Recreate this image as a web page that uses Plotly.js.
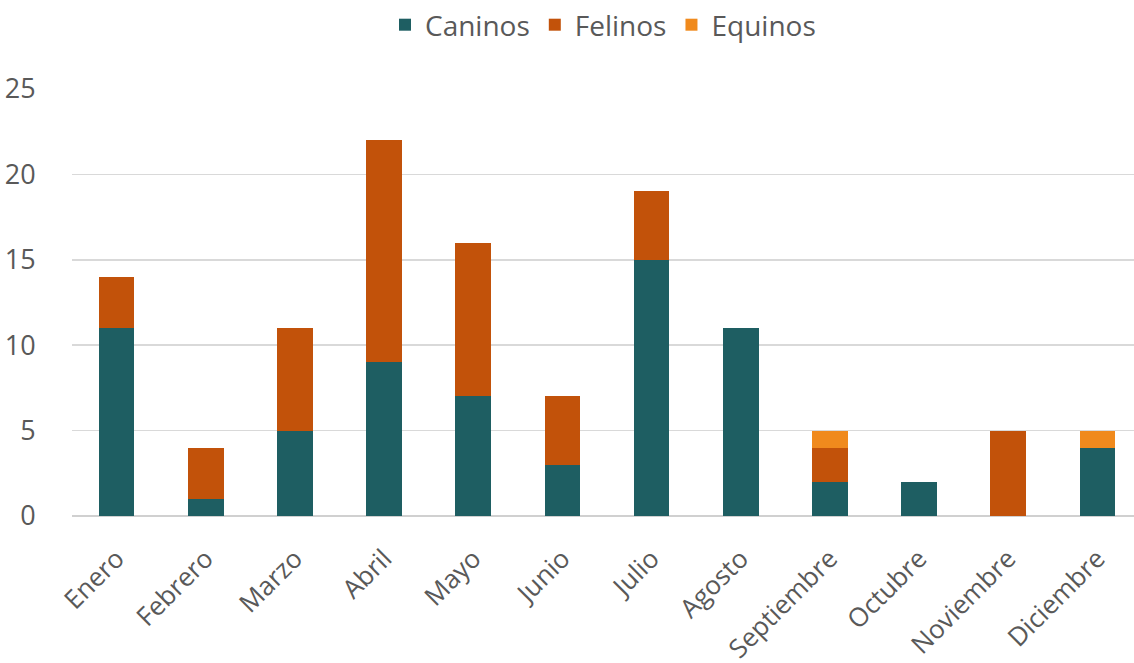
<!DOCTYPE html>
<html><head><meta charset="utf-8">
<script src="https://cdn.plot.ly/plotly-3.0.1.min.js"></script>
<style>html,body{margin:0;padding:0;background:#fff}#c{width:1134px;height:663px}</style>
</head><body><div id="c"></div>
<script>
var months = ["Enero","Febrero","Marzo","Abril","Mayo","Junio","Julio","Agosto","Septiembre","Octubre","Noviembre","Diciembre"];
var caninos = [11,1,5,9,7,3,15,11,2,2,0,4];
var felinos = [3,3,6,13,9,4,4,0,2,0,5,0];
var equinos = [0,0,0,0,0,0,0,0,1,0,0,1];
var yTicks = [0,5,10,15,20,25];

var traces = [
  {type:'bar', name:'Caninos', x:months, y:caninos, marker:{color:'#1E5E62'}},
  {type:'bar', name:'Felinos', x:months, y:felinos, marker:{color:'#C2520A'}},
  {type:'bar', name:'Equinos', x:months, y:equinos, marker:{color:'#F08A1D'}}
];
var layout = {
  width:1134, height:663,
  barmode:'stack', bargap:0.6,
  margin:{l:72, r:0, t:89, b:147},
  paper_bgcolor:'#fff', plot_bgcolor:'#fff',
  font:{family:'"Open Sans", sans-serif', color:'#595959', size:26},
  showlegend:true,
  legend:{orientation:'h', x:0.5, xanchor:'center', y:1.0, yref:'container', yanchor:'top', font:{size:28, color:'#595959'}, traceorder:'normal', itemwidth:20, tracegroupgap:0},
  xaxis:{type:'category', range:[-0.5, 11.41], tickangle:-45, showgrid:false, zeroline:false, showline:false, ticks:'outside', ticklen:16, tickcolor:'rgba(0,0,0,0)', tickfont:{size:26, color:'#595959'}},
  yaxis:{range:[0,25], tickvals:yTicks, ticktext:yTicks.map(String), showgrid:true, gridcolor:'#D9D9D9', gridwidth:1.5, zeroline:true, zerolinecolor:'#D0D0D0', zerolinewidth:1.5, showline:false, ticks:'outside', ticklen:30, tickcolor:'rgba(0,0,0,0)', tickfont:{size:27, color:'#595959'}}
};
Plotly.newPlot('c', traces, layout, {staticPlot:true});
</script></body></html>
